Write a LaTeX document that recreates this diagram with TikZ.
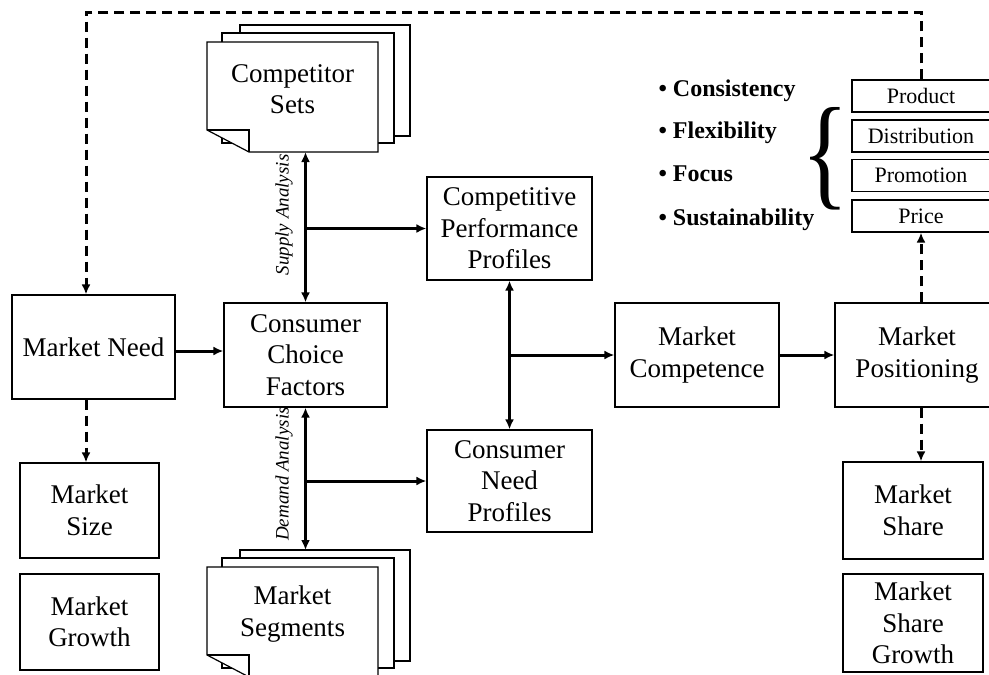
\documentclass[tikz,border=0pt]{standalone}
\usepackage{fontspec}
\setmainfont{Liberation Serif}
\usetikzlibrary{arrows.meta}

\tikzset{
  box/.style={draw,line width=1.2pt,align=center,inner sep=0pt,font=\fontsize{27}{31.5}\selectfont},
  mix/.style={draw,line width=1.2pt,inner sep=0pt,minimum width=138,minimum height=32,font=\fontsize{22}{24}\selectfont},
  page/.style={draw,line width=1.2pt,fill=white},
  flow/.style={->,line width=3pt},
  dual/.style={<->,line width=3pt},
  feedback/.style={->,line width=3pt,dash pattern=on 10pt off 6pt},
  note/.style={font=\fontsize{19}{21}\selectfont\itshape,rotate=90},
  trait/.style={anchor=base west,font=\fontsize{24}{26}\selectfont\bfseries}
}

% stack of three pages: name, left, top, text
\newcommand{\pagestack}[4]{%
  \draw[page] (#2+33,#3-17) rectangle (#2+203,#3+94);
  \draw[page] (#2+15,#3-9) rectangle (#2+187,#3+101);
  \draw[page] (#2,#3) -- (#2+171,#3) -- (#2+171,#3+110) -- (#2+42,#3+110) -- (#2,#3+88) -- cycle;
  \draw[line width=1.2pt] (#2,#3+88) -- (#2+42,#3+88) -- (#2+42,#3+110);
  \coordinate (#1-t) at (#2+85,#3-17);
  \coordinate (#1-b) at (#2+85,#3+110);
  \node[font=\fontsize{27}{31.5}\selectfont,align=center] (#1) at (#2+85.5,#3+47) {#4};
}

\begin{document}
\begin{tikzpicture}[x=1pt,y=-1pt,>={Latex[length=10pt,width=9pt]}]
  \useasboundingbox (0,0) rectangle (989,675);

  \pagestack{sets}{207}{42}{Competitor\\Sets}
  \pagestack{segs}{207}{567}{Market\\Segments}

  \node[box,minimum width=163,minimum height=104] (need) at (93.5,347) {Market Need};
  \node[box,minimum width=163,minimum height=104] (choice) at (305.5,355) {Consumer\\Choice\\Factors};
  \node[box,minimum width=139,minimum height=95] (size) at (89.5,510.5) {Market\\Size};
  \node[box,minimum width=139,minimum height=96] (growth) at (89.5,622) {Market\\Growth};
  \node[box,minimum width=165,minimum height=103] (perf) at (509.5,228.5) {Competitive\\Performance\\Profiles};
  \node[box,minimum width=165,minimum height=102] (needprof) at (509.5,481) {Consumer\\Need\\Profiles};
  \node[box,minimum width=164,minimum height=104] (compet) at (697,355) {Market\\Competence};
  \node[box,minimum width=164,minimum height=104] (posit) at (917,355) {Market\\Positioning};
  \node[box,minimum width=140,minimum height=97] (share) at (913,510.5) {Market\\Share};
  \node[box,minimum width=140,minimum height=98] (sharegr) at (913,623) {Market\\Share\\Growth};

  \node[mix] (product) at (921,96) {Product};
  \node[mix] (distrib) at (921,136) {Distribution};
  \node[mix] (promo) at (921,175.5) {Promotion};
  \node[mix] (price) at (921,216) {Price};

  \node[trait] (t1) at (655,96) {\textbullet\ Consistency};
  \node[trait] (t2) at (655,138) {\textbullet\ Flexibility};
  \node[trait] (t3) at (655,181) {\textbullet\ Focus};
  \node[trait] (t4) at (655,225) {\textbullet\ Sustainability};
  \node[inner sep=0pt,font=\fontsize{124}{124}\selectfont,xscale=0.8] (brace) at (825,159) {\{};

  \node[note] (supply) at (284,215) {Supply Analysis};
  \node[note] (demand) at (284,474) {Demand Analysis};

  \coordinate (lx) at (86,0);
  \coordinate (top) at (0,12);
  \draw[feedback] (product.north) -- (product.north |- top) -| (lx |- need.north);
  \draw[feedback] (lx |- need.south) -- (lx |- size.north);
  \draw[flow] ([yshift=-4pt]need.east) -- ([yshift=-4pt]need.east -| choice.west);
  \draw[dual] (choice.north |- sets-b) -- (choice.north);
  \draw[flow] (choice.north |- perf.west) -- (perf.west);
  \draw[dual] (choice.south) -- (choice.south |- segs-t);
  \draw[flow] (choice.south |- needprof.west) -- (needprof.west);
  \draw[dual] (perf.south) -- (needprof.north);
  \draw[flow] (perf.south |- compet.west) -- (compet.west);
  \draw[flow] (compet.east) -- (posit.west);
  \draw[feedback] (price.south |- posit.north) -- (price.south);
  \draw[feedback] (price.south |- posit.south) -- (price.south |- share.north);
\end{tikzpicture}
\end{document}
